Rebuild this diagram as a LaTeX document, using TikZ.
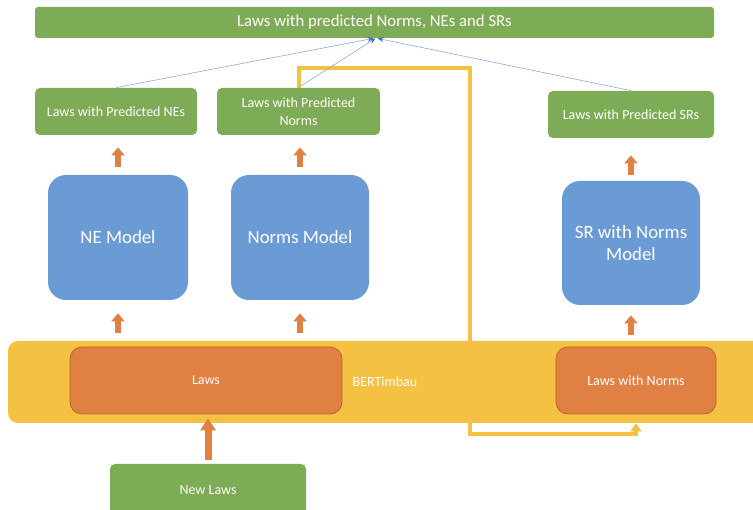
\documentclass[tikz,border=0pt]{standalone}
\usepackage{fontspec}
\setmainfont{Carlito}
\usetikzlibrary{arrows.meta}

\definecolor{boxgreen}{RGB}{126,171,85}
\definecolor{boxblue}{RGB}{106,155,213}
\definecolor{boxorange}{RGB}{224,129,67}
\definecolor{edgeorange}{RGB}{180,100,45}
\definecolor{bandyellow}{RGB}{245,193,66}
\definecolor{linkblue}{RGB}{143,170,220}
\definecolor{tipblue}{RGB}{68,114,196}

\tikzset{every picture/.style={line width=0.75pt}}
\tikzset{
  greenbox/.style={fill=boxgreen, text=white, rounded corners=5pt, inner sep=0pt, align=center, font=\fontsize{14}{18}\selectfont},
  modelbox/.style={fill=boxblue, text=white, rounded corners=18pt, inner sep=0pt, align=center, font=\fontsize{18.8}{22}\selectfont},
  orangebox/.style={fill=boxorange, draw=edgeorange, text=white, rounded corners=12pt, inner sep=0pt, font=\fontsize{14}{17}\selectfont},
  uparrow/.style={draw=boxorange, line width=6pt, -{Triangle[width=13pt,length=8pt]}},
  bigarrow/.style={draw=boxorange, line width=7pt, -{Triangle[width=15pt,length=12pt]}},
  feedline/.style={draw=bandyellow, line width=4pt, -{Triangle[width=11pt,length=8pt]}},
  mergeline/.style={draw=linkblue, line width=0.6pt, -{Stealth[length=6pt,width=5pt,color=tipblue]}}
}

\begin{document}
\begin{tikzpicture}[x=1pt,y=1pt,yscale=-1,xscale=1]
\useasboundingbox (0,0) rectangle (753,510);
\clip (0,0) rectangle (753,510);

%Shape: BERTimbau band
\node[fill=bandyellow, rounded corners=10pt, minimum width=767, minimum height=82] (bert) at (391.5,382) {};
% Text Node
\node[text=white, font=\fontsize{14}{17}\selectfont] (bertlabel) at (385,382) {BERTimbau};

%Shape: inputs inside the band
\node[orangebox, minimum width=272, minimum height=67] (laws) at (206,380.5) {Laws};
\node[orangebox, minimum width=160, minimum height=67] (lawsnorms) at (636,380.5) {Laws with Norms};

%Shape: new laws
\node[greenbox, minimum width=196, minimum height=52] (newlaws) at (208,490) {New Laws};

%Shape: models
\node[modelbox, minimum width=140, minimum height=125] (nemodel) at (118,237.5) {NE Model};
\node[modelbox, minimum width=138, minimum height=125] (normsmodel) at (300,237.5) {Norms Model};
\node[modelbox, minimum width=138, minimum height=124] (srmodel) at (631,243) {SR with Norms\\Model};

%Shape: predictions
\node[greenbox, minimum width=162, minimum height=47] (nepred) at (116,111.5) {Laws with Predicted NEs};
\node[greenbox, minimum width=163, minimum height=47] (normspred) at (298.5,111.5) {Laws with Predicted\\Norms};
\node[greenbox, minimum width=166, minimum height=47] (srpred) at (631,114.5) {Laws with Predicted SRs};

%Shape: merged output
\node[greenbox, rounded corners=3pt, minimum width=679, minimum height=31, font=\fontsize{16.7}{20}\selectfont] (merged) at (374.5,22.5) {Laws with predicted Norms, NEs and SRs};

%Straight Lines: model inputs
\draw[bigarrow, shorten <=4pt, shorten >=4pt] (newlaws.north) -- (newlaws.north |- laws.south);
\draw[uparrow, shorten <=14pt, shorten >=13pt] (nemodel.south |- laws.north) -- (nemodel.south);
\draw[uparrow, shorten <=14pt, shorten >=13pt] (normsmodel.south |- laws.north) -- (normsmodel.south);
\draw[uparrow, shorten <=12pt, shorten >=10pt] (srmodel.south |- lawsnorms.north) -- (srmodel.south);

%Straight Lines: model outputs
\draw[uparrow, shorten <=8pt, shorten >=12pt] (nemodel.north) -- (nemodel.north |- nepred.south);
\draw[uparrow, shorten <=8pt, shorten >=12pt] (normsmodel.north) -- (normsmodel.north |- normspred.south);
\draw[uparrow, shorten <=6pt, shorten >=17pt] (srmodel.north) -- (srmodel.north |- srpred.south);

%Straight Lines: feedback of predicted norms
\coordinate (loopa) at (470,68);
\coordinate (loopb) at (470,434);
\draw[feedline] (normspred.north) |- (loopa) -- (loopb) -| (bert.south -| lawsnorms.south);

%Straight Lines: merging
\draw[mergeline] (nepred.north) -- ([xshift=-1pt]merged.south);
\draw[mergeline] (normspred.north) -- ([xshift=1pt]merged.south);
\draw[mergeline] (srpred.north) -- ([xshift=3pt]merged.south);

\end{tikzpicture}
\end{document}
